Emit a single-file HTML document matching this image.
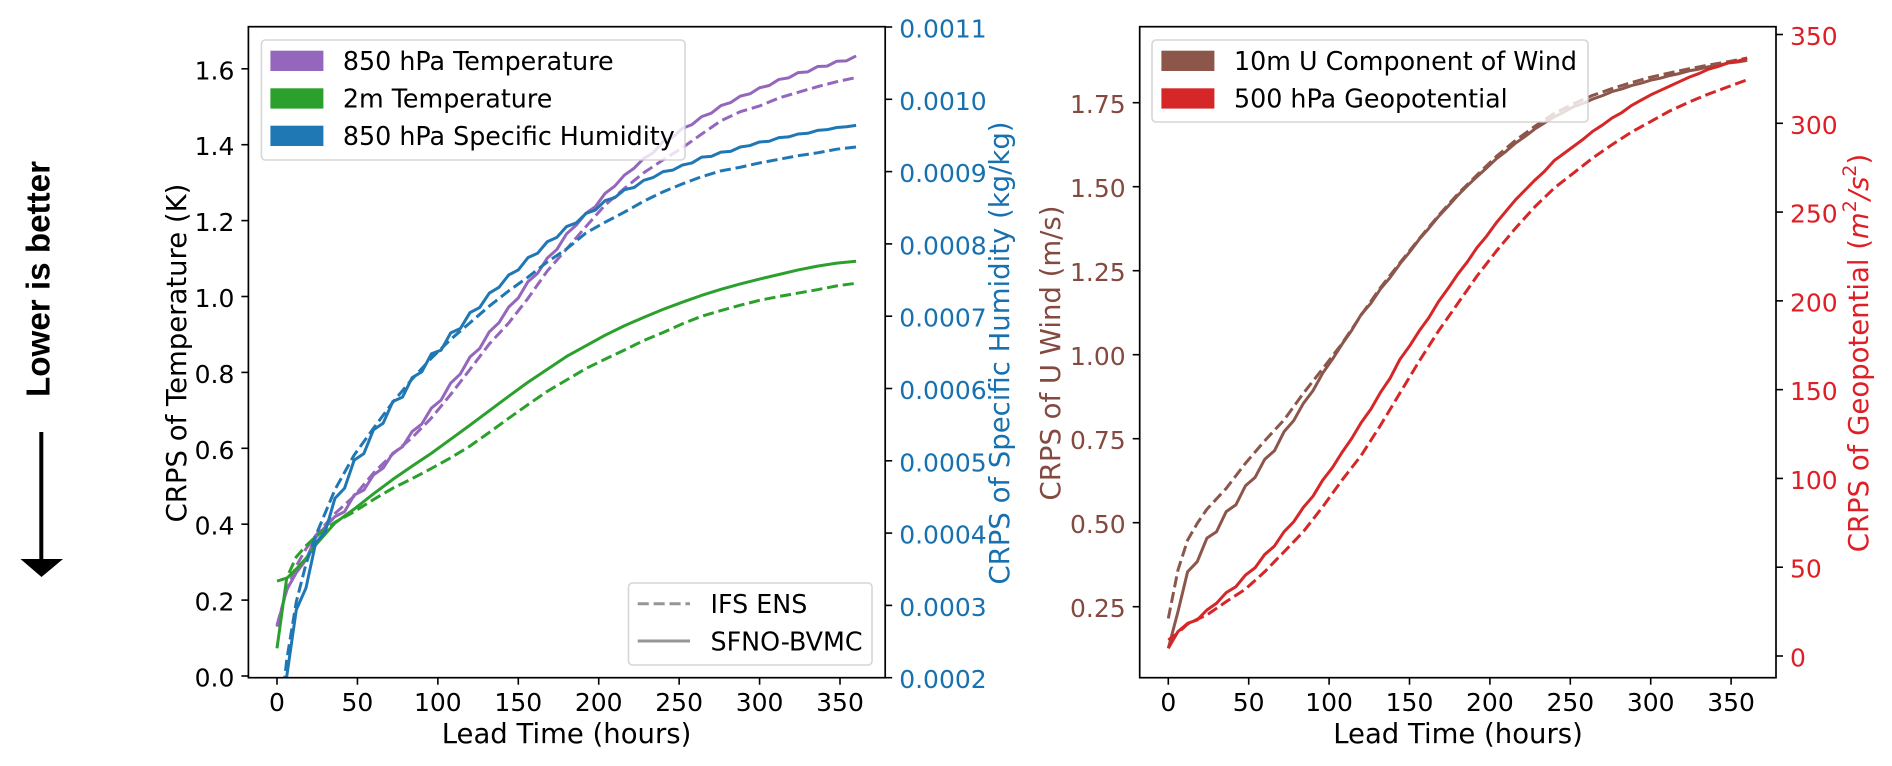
<!DOCTYPE html>
<html lang="en">
<head>
<meta charset="utf-8">
<title>CRPS comparison chart</title>
<style>
html,body{margin:0;padding:0;background:#fff;width:1892px;height:766px;overflow:hidden}
svg{display:block;filter:blur(0.3px)}
text{font-family:"DejaVu Sans","Liberation Sans",sans-serif;fill:#000}
</style>
</head>
<body>
<svg id="figure" xmlns="http://www.w3.org/2000/svg" width="1892" height="766" viewBox="0 0 1892 766">
  <defs>
    <clipPath id="clip-left"><rect x="248.4" y="26.7" width="636.8" height="651"/></clipPath>
    <clipPath id="clip-right"><rect x="1139.7" y="26.7" width="636.3" height="651"/></clipPath>
  </defs>
  <text transform="translate(39 279) rotate(-90)" text-anchor="middle" dominant-baseline="central" style="font-family:'Liberation Sans',sans-serif;font-weight:bold;font-size:33.2px">Lower is better</text>
  <line x1="41.3" y1="432" x2="41.3" y2="562" stroke="#000" stroke-width="4"/>
  <polygon points="20.5,559 63,559 41.5,577" fill="#000"/>
  <g id="left-chart"></g>
  <g id="right-chart"></g>
</svg>
<script>
const hoursFine = [0,6,12,18,24,30,36,42,48,54,60,66,72,78,84,90,96,102,108,114,120,126,132,138,144,150,156,162,168,174,180,186,192,198,204,210,216,222,228,234,240,246,252,258,264,270,276,282,288,294,300,306,312,318,324,330,336,342,348,354,360];
const hoursCoarse = [0,6,12,18,24,36,48,60,72,84,96,108,120,132,144,156,168,180,192,204,216,228,240,252,264,276,288,300,312,324,336,348,360];

const temp850Sfno = [.13,.227,.272,.306,.365,.393,.42,.433,.477,.49,.53,.548,.587,.604,.644,.664,.706,.727,.772,.796,.841,.863,.907,.931,.972,.996,1.039,1.061,1.101,1.124,1.165,1.188,1.219,1.237,1.272,1.291,1.32,1.338,1.364,1.379,1.408,1.42,1.443,1.453,1.474,1.483,1.503,1.511,1.528,1.534,1.55,1.556,1.572,1.576,1.59,1.592,1.606,1.607,1.62,1.621,1.634];
const temp850Ifs = [.134,.225,.29,.335,.37,.428,.474,.535,.585,.628,.68,.742,.808,.875,.93,.995,1.067,1.125,1.184,1.241,1.285,1.326,1.36,1.392,1.428,1.463,1.487,1.502,1.523,1.538,1.553,1.566,1.577];
const temp2mSfno = [.073,.257,.282,.31,.345,.403,.44,.48,.518,.553,.587,.624,.661,.699,.737,.774,.808,.842,.87,.898,.923,.945,.966,.985,1.003,1.019,1.033,1.046,1.058,1.07,1.08,1.088,1.093];
const temp2mIfs = [.25,.258,.314,.343,.367,.405,.433,.465,.495,.52,.547,.575,.606,.642,.679,.715,.75,.78,.81,.835,.859,.884,.905,.928,.948,.963,.977,.99,1,1.009,1.018,1.028,1.035];
const humiditySfno = [.00011,.000201,.000294,.000324,.000386,.000402,.000448,.000462,.000501,.00051,.000543,.000552,.000582,.000588,.000615,.000623,.000648,.000653,.000677,.000683,.000705,.000712,.000732,.00074,.000757,.000764,.000781,.000787,.000803,.000809,.000824,.000829,.000842,.000847,.00086,.000864,.000875,.000878,.000888,.000892,.0009,.000902,.000909,.000912,.00092,.000921,.000927,.000928,.000934,.000936,.000941,.000942,.000947,.000948,.000952,.000953,.000957,.000958,.000961,.000962,.000964];
const humidityIfs = [.0001,.000224,.000305,.000357,.000396,.00046,.000508,.000545,.000581,.000613,.000642,.000668,.000691,.000714,.000735,.000754,.000775,.000793,.000815,.00083,.000844,.000859,.000872,.000883,.000893,.000901,.000906,.000912,.000917,.000922,.000926,.000931,.000934];
const windSfno = [.126,.235,.354,.384,.454,.473,.533,.553,.61,.635,.689,.714,.771,.804,.855,.893,.945,.986,1.031,1.072,1.12,1.153,1.196,1.23,1.27,1.305,1.343,1.376,1.411,1.442,1.474,1.503,1.53,1.556,1.583,1.605,1.63,1.65,1.672,1.69,1.708,1.722,1.738,1.748,1.761,1.771,1.783,1.791,1.801,1.808,1.817,1.823,1.831,1.837,1.845,1.85,1.857,1.861,1.868,1.871,1.876];
const windIfs = [.215,.359,.448,.498,.54,.602,.677,.744,.806,.885,.958,1.033,1.118,1.2,1.273,1.345,1.414,1.478,1.535,1.59,1.638,1.68,1.718,1.747,1.772,1.792,1.81,1.826,1.839,1.851,1.862,1.872,1.883];
const geoSfno = [4.4,13.7,18.4,20.3,25.9,29.7,35.7,39,45.6,49.7,57.2,61.9,70,75.6,83.7,90,99,106,114.6,122.4,131.5,139,148.5,156.5,167,174.5,183,190.5,199.5,207,215,222,230,236.5,244,250.5,257,262.5,268,273,279,283,287,291,295.5,299,303,306,310,313,316,318.5,321,323.5,326,328,330.5,332,334,335,336.6];
const geoIfs = [9,13,18,20.7,23.1,30.6,37.7,47.5,58.7,70,84,99,113,130,148,166,183,198.5,214,228,241,253,263.5,272,280.5,288,295,301,307,312,316.5,320.5,324.5];

const xTicks = [0,50,100,150,200,250,300,350];
const tempTicks = [0,.2,.4,.6,.8,1,1.2,1.4,1.6];
const humidityTicks = [.0002,.0003,.0004,.0005,.0006,.0007,.0008,.0009,.001,.0011];
const windTicks = [.25,.5,.75,1,1.25,1.5,1.75];
const geoTicks = [0,50,100,150,200,250,300,350];

const leftHeads = ["850 hPa Temperature","2m Temperature","850 hPa Specific Humidity"];
const rightHeads = ["10m U Component of Wind","500 hPa Geopotential"];

const NS = "http://www.w3.org/2000/svg";
const FS_TICK = 25, FS_LABEL = 27.5, FS_LEG = 25.35;
const C = {purple:"#9467bd",green:"#2ca02c",blue:"#1f77b4",brown:"#8c564b",red:"#d62728"};
const TEXT = {blue:"#1771b0",brown:"#84493f",red:"#df1f26"};
const TOP = 26.7, BOTTOM = 677.7;

const xLeft = h => 277 + h * 1.6086;
const xRight = h => 1168.3 + h * 1.608;
const yTemp = v => 676 - v * 379.5;
const yHum = q => 677.7 - (q - .0002) * 723000;
const yWind = v => 606.7 - (v - .25) * 336;
const yGeo = v => 656 - v * 1.7757;

function mk(parent, tag, attrs, txt){
  const el = document.createElementNS(NS, tag);
  for (const k in attrs) el.setAttribute(k, attrs[k]);
  if (txt !== undefined) el.textContent = txt;
  parent.appendChild(el);
  return el;
}
function series(parent, xs, ys, xf, yf, color, dashed, clip, name){
  const d = xs.map((h,i) => (i ? "L" : "M") + xf(h).toFixed(2) + " " + yf(ys[i]).toFixed(2)).join("");
  const el = mk(parent, "path", {d:d, fill:"none", stroke:color, "stroke-width":3, "stroke-linejoin":"round", "stroke-dasharray":dashed ? "11.1 4.8" : "none", "clip-path":"url(#" + clip + ")"});
  
  
}
function frame(parent, x0, x1){
  const el = mk(parent, "rect", {x:x0, y:TOP, width:x1-x0, height:BOTTOM-TOP, fill:"none", stroke:"#000", "stroke-width":1.7});
  
  
}
function xAxis(parent, xf, labelX){
  xTicks.forEach(t => {
    const m = mk(parent, "line", {x1:xf(t), x2:xf(t), y1:BOTTOM, y2:BOTTOM+7, stroke:"#000", "stroke-width":1.6});
    
    
    const l = mk(parent, "text", {x:xf(t), y:702.5, "text-anchor":"middle", "dominant-baseline":"central", "font-size":FS_TICK}, String(t));
    
    
  });
  const title = mk(parent, "text", {x:labelX, y:734, "text-anchor":"middle", "dominant-baseline":"central", "font-size":FS_LABEL}, "Lead Time (hours)");
  
  
}
function yAxis(parent, ticks, yf, spineX, side, color, fmt){
  ticks.forEach(t => {
    const dir = side === "left" ? -1 : 1;
    const m = mk(parent, "line", {x1:spineX, x2:spineX + dir*7, y1:yf(t), y2:yf(t), stroke:"#000", "stroke-width":1.6});
    
    
    const l = mk(parent, "text", {x:spineX + dir*14, y:yf(t) + 2, "text-anchor":side === "left" ? "end" : "start", "dominant-baseline":"central", "font-size":FS_TICK, style:"fill:" + color}, fmt(t));
    
    
  });
}
function yTitle(parent, txt, x, color, name){
  const el = mk(parent, "text", {transform:"translate(" + x + " 353) rotate(-90)", "text-anchor":"middle", "dominant-baseline":"central", "font-size":FS_LABEL, style:"fill:" + color}, txt);
  
  
  return el;
}
function legendBox(parent, x, y, w, h, name){
  const el = mk(parent, "rect", {x:x, y:y, width:w, height:h, rx:4, fill:"#fff", "fill-opacity":.8, stroke:"#ccc", "stroke-opacity":.8, "stroke-width":1.6});
  
  
}
function patchEntry(parent, x, yTop, color, label, textX){
  const p = mk(parent, "rect", {x:x, y:yTop, width:53, height:20.3, fill:color});
  
  
  const t = mk(parent, "text", {x:textX, y:yTop + 10.2, "dominant-baseline":"central", "font-size":FS_LEG}, label);
  
  
}

/* left chart */
const L = document.getElementById("left-chart");
series(L, hoursCoarse, temp850Ifs, xLeft, yTemp, C.purple, true, "clip-left", "temp-850-ifs-line");
series(L, hoursFine, temp850Sfno, xLeft, yTemp, C.purple, false, "clip-left", "temp-850-sfno-line");
series(L, hoursCoarse, temp2mIfs, xLeft, yTemp, C.green, true, "clip-left", "temp-2m-ifs-line");
series(L, hoursCoarse, temp2mSfno, xLeft, yTemp, C.green, false, "clip-left", "temp-2m-sfno-line");
series(L, hoursCoarse, humidityIfs, xLeft, yHum, C.blue, true, "clip-left", "humidity-ifs-line");
series(L, hoursFine, humiditySfno, xLeft, yHum, C.blue, false, "clip-left", "humidity-sfno-line");
frame(L, 248.4, 885.2);
xAxis(L, xLeft, 566.5);
yAxis(L, tempTicks, yTemp, 248.4, "left", "#000", t => t.toFixed(1));
yAxis(L, humidityTicks, yHum, 885.2, "right", TEXT.blue, t => t.toFixed(4));
yTitle(L, "CRPS of Temperature (K)", 177, "#000", "left-y-axis-title");
yTitle(L, "CRPS of Specific Humidity (kg/kg)", 1000, TEXT.blue, "humidity-y-axis-title");
legendBox(L, 261.4, 40, 423.6, 120, "variable-legend");
patchEntry(L, 270.4, 50.7, C.purple, leftHeads[0], 342.9);
patchEntry(L, 270.4, 88.3, C.green, leftHeads[1], 342.9);
patchEntry(L, 270.4, 125.7, C.blue, leftHeads[2], 342.9);
legendBox(L, 628.5, 583, 243.5, 82, "model-legend");
const dashKey = mk(L, "line", {x1:637.7, x2:690, y1:603.7, y2:603.7, stroke:"#969696", "stroke-width":3, "stroke-dasharray":"11.1 4.8"});


const dashText = mk(L, "text", {x:710.5, y:604, "dominant-baseline":"central", "font-size":FS_LEG}, "IFS ENS");


const solidKey = mk(L, "line", {x1:637.7, x2:690, y1:641, y2:641, stroke:"#969696", "stroke-width":3});


const solidText = mk(L, "text", {x:710.5, y:641.5, "dominant-baseline":"central", "font-size":FS_LEG}, "SFNO-BVMC");



/* right chart */
const R = document.getElementById("right-chart");
series(R, hoursCoarse, windIfs, xRight, yWind, C.brown, true, "clip-right", "wind-ifs-line");
series(R, hoursFine, windSfno, xRight, yWind, C.brown, false, "clip-right", "wind-sfno-line");
series(R, hoursCoarse, geoIfs, xRight, yGeo, C.red, true, "clip-right", "geopotential-ifs-line");
series(R, hoursFine, geoSfno, xRight, yGeo, C.red, false, "clip-right", "geopotential-sfno-line");
frame(R, 1139.7, 1776);
xAxis(R, xRight, 1458);
yAxis(R, windTicks, yWind, 1139.7, "left", TEXT.brown, t => t.toFixed(2));
yAxis(R, geoTicks, yGeo, 1776, "right", TEXT.red, t => String(t));
yTitle(R, "CRPS of U Wind (m/s)", 1051, TEXT.brown, "wind-y-axis-title");
const geoTitle = yTitle(R, "CRPS of Geopotential (", 1859, TEXT.red, "geopotential-y-axis-title");
[["m","italic",0,""],["2","normal",-9,"small"],["/","italic",9,""],["s","italic",0,""],["2","normal",-9,"small"],[")","normal",9,""]].forEach(p => {
  const ts = mk(geoTitle, "tspan", {"font-style":p[1], dy:p[2], "font-size":p[3] ? 19 : FS_LABEL}, p[0]);
  
  
});
legendBox(R, 1152, 40, 436, 82, "right-variable-legend");
patchEntry(R, 1161.4, 50.7, C.brown, rightHeads[0], 1234);
patchEntry(R, 1161.4, 88.3, C.red, rightHeads[1], 1234);
</script>
</body>
</html>
